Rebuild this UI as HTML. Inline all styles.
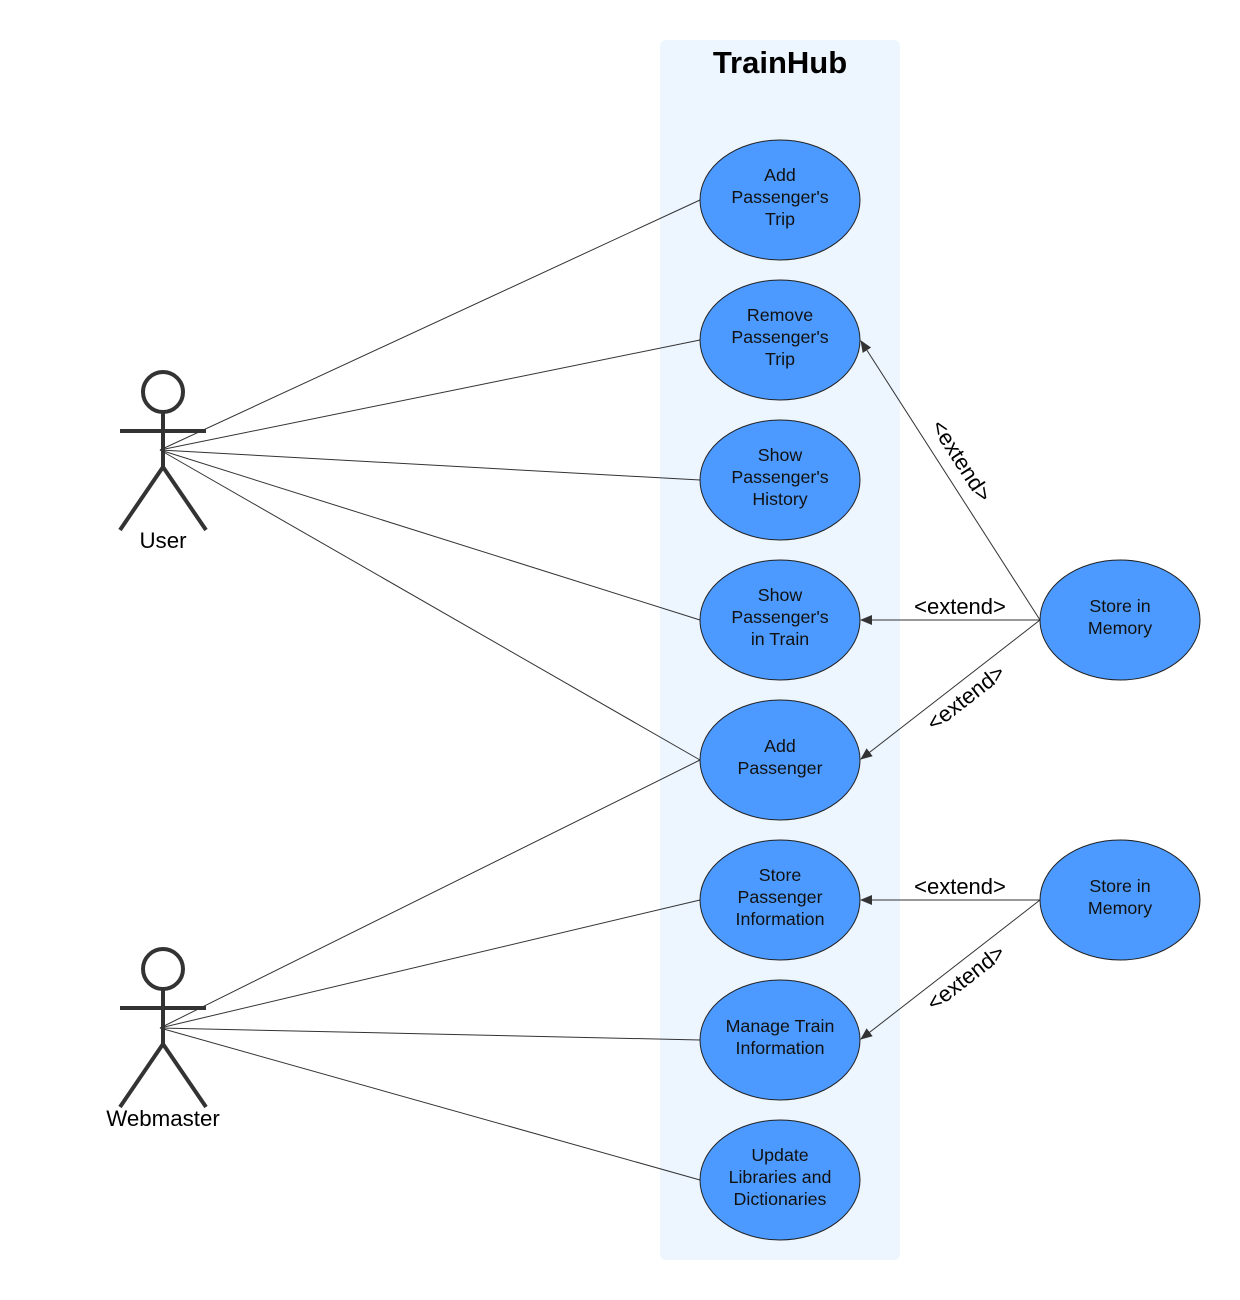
<!DOCTYPE html>
<html><head><meta charset="utf-8"><style>
html,body{margin:0;padding:0;background:#fff;}
svg{display:block;font-family:"Liberation Sans",Arial,sans-serif;}
</style></head><body>
<svg width="1240" height="1300" viewBox="0 0 1240 1300" xmlns="http://www.w3.org/2000/svg">
<defs>
<marker id="ah" markerWidth="12" markerHeight="10" refX="11" refY="5" orient="auto" markerUnits="userSpaceOnUse">
<path d="M0,0 L12,5 L0,10 Z" fill="#333"/>
</marker>
</defs>
<rect x="660" y="40" width="240" height="1220" rx="6" fill="#EDF5FF"/>
<text x="780" y="73" text-anchor="middle" font-size="31" font-weight="bold" fill="#000">TrainHub</text>

<g stroke="#333" stroke-width="1" fill="none">
<line x1="160" y1="450" x2="700" y2="200"/>
<line x1="160" y1="450" x2="700" y2="340"/>
<line x1="160" y1="450" x2="700" y2="480"/>
<line x1="160" y1="450" x2="700" y2="620"/>
<line x1="160" y1="450" x2="700" y2="760"/>
<line x1="160" y1="1028" x2="700" y2="760"/>
<line x1="160" y1="1028" x2="700" y2="900"/>
<line x1="160" y1="1028" x2="700" y2="1040"/>
<line x1="160" y1="1028" x2="700" y2="1180"/>
<line x1="1040" y1="620" x2="861" y2="341" marker-end="url(#ah)"/>
<line x1="1040" y1="620" x2="861" y2="620" marker-end="url(#ah)"/>
<line x1="1040" y1="620" x2="861" y2="759" marker-end="url(#ah)"/>
<line x1="1040" y1="900" x2="861" y2="900" marker-end="url(#ah)"/>
<line x1="1040" y1="900" x2="861" y2="1039" marker-end="url(#ah)"/>
</g>

<g font-size="22" fill="#000" text-anchor="middle">
<text x="960" y="614">&lt;extend&gt;</text>
<text x="960" y="894">&lt;extend&gt;</text>
<text transform="translate(961,461) rotate(57.3)" y="7">&lt;extend&gt;</text>
<text transform="translate(966,698) rotate(-37.9)" y="7">&lt;extend&gt;</text>
<text transform="translate(966,978) rotate(-37.9)" y="7">&lt;extend&gt;</text>
</g>

<g fill="#4C9AFF" stroke="#222" stroke-width="1">
<ellipse cx="780" cy="200" rx="80" ry="60"/>
<ellipse cx="780" cy="340" rx="80" ry="60"/>
<ellipse cx="780" cy="480" rx="80" ry="60"/>
<ellipse cx="780" cy="620" rx="80" ry="60"/>
<ellipse cx="780" cy="760" rx="80" ry="60"/>
<ellipse cx="780" cy="900" rx="80" ry="60"/>
<ellipse cx="780" cy="1040" rx="80" ry="60"/>
<ellipse cx="780" cy="1180" rx="80" ry="60"/>
<ellipse cx="1120" cy="620" rx="80" ry="60"/>
<ellipse cx="1120" cy="900" rx="80" ry="60"/>
</g>

<g font-size="17.8" fill="#111" text-anchor="middle">
<text x="780" y="181">Add</text><text x="780" y="203">Passenger's</text><text x="780" y="225">Trip</text>
<text x="780" y="321">Remove</text><text x="780" y="343">Passenger's</text><text x="780" y="365">Trip</text>
<text x="780" y="461">Show</text><text x="780" y="483">Passenger's</text><text x="780" y="505">History</text>
<text x="780" y="601">Show</text><text x="780" y="623">Passenger's</text><text x="780" y="645">in Train</text>
<text x="780" y="752">Add</text><text x="780" y="774">Passenger</text>
<text x="780" y="881">Store</text><text x="780" y="903">Passenger</text><text x="780" y="925">Information</text>
<text x="780" y="1032">Manage Train</text><text x="780" y="1054">Information</text>
<text x="780" y="1161">Update</text><text x="780" y="1183">Libraries and</text><text x="780" y="1205">Dictionaries</text>
<text x="1120" y="612">Store in</text><text x="1120" y="634">Memory</text>
<text x="1120" y="892">Store in</text><text x="1120" y="914">Memory</text>
</g>

<g stroke="#333" stroke-width="4" fill="none" stroke-linecap="butt">
<circle cx="163" cy="392" r="20"/>
<line x1="163" y1="412" x2="163" y2="467"/>
<line x1="120" y1="431" x2="206" y2="431"/>
<line x1="163" y1="467" x2="120" y2="530"/>
<line x1="163" y1="467" x2="206" y2="530"/>
<circle cx="163" cy="969" r="20"/>
<line x1="163" y1="989" x2="163" y2="1044"/>
<line x1="120" y1="1008" x2="206" y2="1008"/>
<line x1="163" y1="1044" x2="120" y2="1107"/>
<line x1="163" y1="1044" x2="206" y2="1107"/>
</g>
<g font-size="22.3" fill="#000" text-anchor="middle">
<text x="163" y="548">User</text>
<text x="163" y="1126">Webmaster</text>
</g>
</svg>
</body></html>
